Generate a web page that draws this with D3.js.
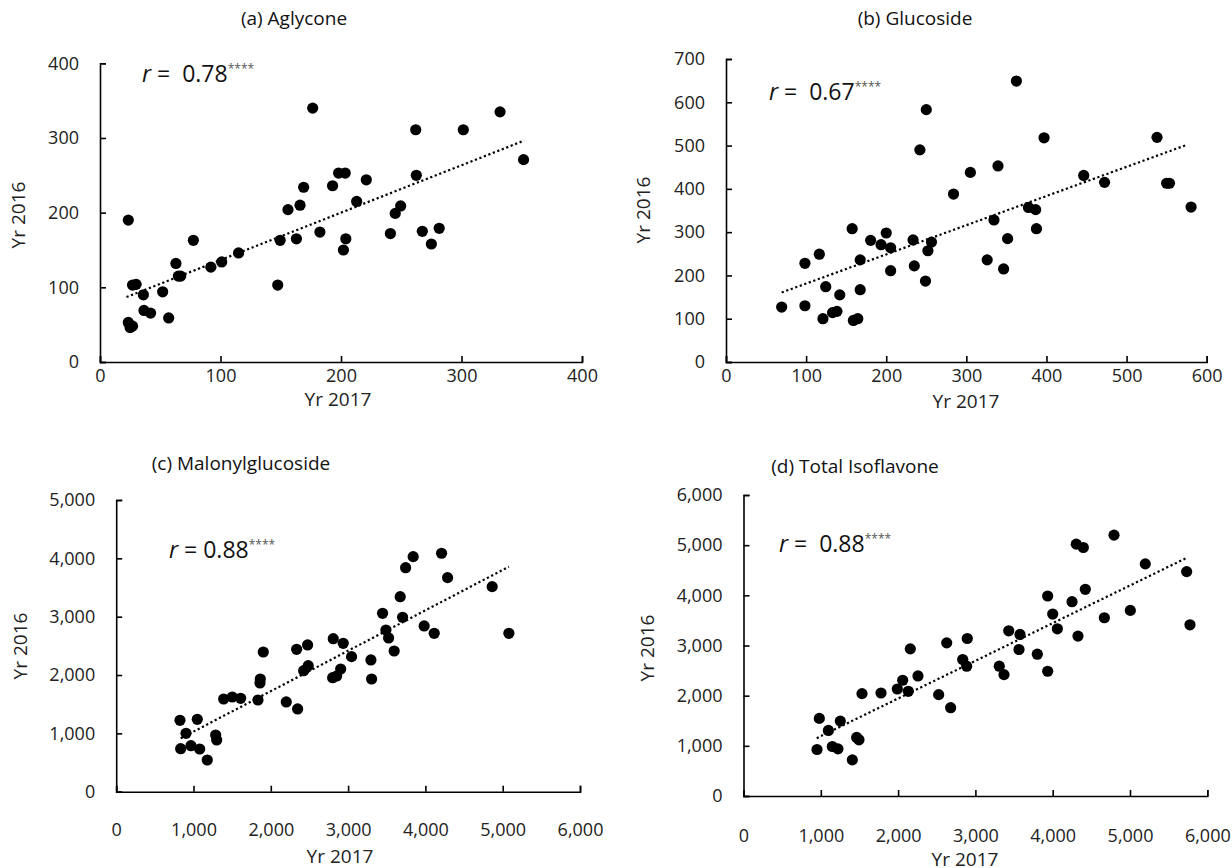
<!DOCTYPE html>
<html><head><meta charset="utf-8">
<script src="https://cdn.jsdelivr.net/npm/d3@7"></script>
<style>body{margin:0;background:#fff}svg{display:block}</style></head>
<body><svg id="chart" width="1232" height="868"></svg>
<script>
// ---- data (Yr 2017 on x, Yr 2016 on y) ----
const aX=[23.5,27,30,36,52,36.5,42,57,23.5,27,25,63,65,67,77.5,92,101,115,147.5,149.5,156,163,166,169,176.5,182.5,193,198,203.5,202,204,221,213,332,262,301.5,351.5,262.5,249.5,245,241,267.5,281.5,275];
const aY=[190,103,104,90,94,69,65.5,59,53,48,46,132,115,115,163,127,134,146,103,163,204,165,210,234,340,174,236,253,253,150,165,244,215,335,311,311,271,250,209,199,172,175,179,158];
const bX=[69.5,98.5,98.5,116.5,124.5,121,133,138.5,142,157.5,159,164.5,167.5,167.5,180.5,193.5,200,205.5,205.5,233.5,235,242,250,252,256.5,249,284,305,362.5,397,339.5,334.5,377.5,386.5,387.5,351.5,326,346.5,446.5,472.5,538,550,553.5,580.5];
const bY=[127,130,228,249,174,100,114,117,155,308,96,100,167,236,281,271,298,264,211,282,222,490,583,257,277,187,388,438,649,518,453,328,357,352,308,285,236,215,431,415,519,413,413,358];
const cX=[825,1049,903,834,967,1080,1178,1287,1300,1390,1502,1610,1834,1864,1860,1903,2200,2347,2334,2476,2425,2484,2808,2937,2800,2852,2904,3045,3295,3304,3446,3489,3524,3596,3674,3705,3744,3842,3984,4114,4209,4287,4864,5080];
const cY=[1224,1241,1001,737,789,732,543,972,886,1589,1623,1601,1572,1932,1864,2395,1538,1418,2441,2515,2074,2160,2623,2544,1954,1983,2103,2315,2258,1932,3058,2772,2635,2412,3343,2990,3840,4029,2841,2715,4087,3669,3515,2715];
const dX=[951,981,1098,1149,1222,1252,1408,1464,1494,1533,1779,1990,2059,2132,2158,2257,2525,2680,2629,2895,2836,2887,3309,3370,3431,3577,3564,3801,3935,3935,4000,4060,4250,4305,4396,4327,4422,4668,4793,5004,5198,5733,5776];
const dY=[927,1547,1307,987,940,1493,720,1167,1120,2040,2053,2133,2307,2087,2933,2393,2020,1760,3053,3140,2720,2587,2587,2420,3293,3220,2920,2827,3987,2487,3627,3333,3873,5020,4953,3187,4120,3553,5200,3700,4627,4473,3413];

// linear trend lines (start / end points)
const trendA=[[22,87],[352,296.5]];
const trendB=[[69.5,160.6],[575,501.5]];
const trendC=[[834,915],[5080,3857]];
const trendD=[[947,1153],[5741,4753]];

const titles=["(a) Aglycone","(b) Glucoside","(c) Malonylglucoside","(d) Total Isoflavone"];
const rValues=["0.78","0.67","0.88","0.88"];
const xTicksA=[0,100,200,300,400], yTicksA=[0,100,200,300,400];
const xTicksB=[0,100,200,300,400,500,600], yTicksB=[0,100,200,300,400,500,600,700];
const xTicksC=[0,1000,2000,3000,4000,5000,6000], yTicksC=[0,1000,2000,3000,4000,5000];
const xTicksD=[0,1000,2000,3000,4000,5000,6000], yTicksD=[0,1000,2000,3000,4000,5000,6000];
const xLabel="Yr 2017", yLabel="Yr 2016";

// ---- layout ----
const FONT="'Open Sans', 'Noto Sans', sans-serif";
const NB="\u00a0";
const panels=[
 {x:aX,y:aY,trend:trendA,xt:xTicksA,yt:yTicksA,xr:[100,582],yr:[362,63.3],xpad:7,
  title:[294,25],xl:[338,406],yl:[18,215],r:[142,82],rsep:NB+NB},
 {x:bX,y:bY,trend:trendB,xt:xTicksB,yt:yTicksB,xr:[726,1206.7],yr:[362,59],xpad:7,
  title:[915,25],xl:[966,408],yl:[643,210],r:[769,100],rsep:NB+NB},
 {x:cX,y:cY,trend:trendC,xt:xTicksC,yt:yTicksC,xr:[116.2,580],yr:[791.7,500],xpad:32,
  title:[241,470],xl:[340,863],yl:[20,646],r:[169,558],rsep:NB},
 {x:dX,y:dY,trend:trendD,xt:xTicksD,yt:yTicksD,xr:[743.5,1207.3],yr:[796,495],xpad:33,
  title:[855,473],xl:[965,866],yl:[647,648],r:[779,552],rsep:NB+NB}
];

const svg=d3.select("#chart");
const fmt=d3.format(",");

panels.forEach((p,i)=>{
  const xs=d3.scaleLinear().domain(d3.extent(p.xt)).range(p.xr);
  const ys=d3.scaleLinear().domain(d3.extent(p.yt)).range(p.yr);
  const g=svg.append("g");

  const xa=g.append("g").attr("transform",`translate(0,${p.yr[0]})`)
    .call(d3.axisBottom(xs).tickValues(p.xt).tickFormat(fmt).tickSize(-6).tickSizeOuter(-6).tickPadding(p.xpad));
  const ya=g.append("g").attr("transform",`translate(${p.xr[0]},0)`)
    .call(d3.axisLeft(ys).tickValues(p.yt).tickFormat(fmt).tickSize(-6).tickSizeOuter(-6).tickPadding(21));
  [xa,ya].forEach(a=>{
    a.selectAll("path,line").attr("stroke","#000").attr("stroke-width",1.6);
    a.selectAll("text").attr("fill","#222").style("font-family",FONT).style("font-size","18px");
  });

  // trend line
  g.append("path").datum(p.trend)
    .attr("d",d3.line().x(d=>xs(d[0])).y(d=>ys(d[1])))
    .attr("fill","none").attr("stroke","#000").attr("stroke-width",2.2)
    .attr("stroke-dasharray","2.2,2.6");

  // points
  g.selectAll("circle").data(d3.range(p.x.length)).join("circle")
    .attr("cx",k=>xs(p.x[k])).attr("cy",k=>ys(p.y[k])).attr("r",5.6).attr("fill","#000");

  // title
  g.append("text").attr("x",p.title[0]).attr("y",p.title[1]).attr("text-anchor","middle")
    .style("font-family",FONT).style("font-size","19px").attr("fill","#111").text(titles[i]);
  // axis titles
  g.append("text").attr("x",p.xl[0]).attr("y",p.xl[1]).attr("text-anchor","middle")
    .style("font-family",FONT).style("font-size","19px").attr("fill","#222").text(xLabel);
  g.append("text").attr("transform",`translate(${p.yl[0]},${p.yl[1]}) rotate(-90)`)
    .attr("text-anchor","middle").attr("dy","0.35em")
    .style("font-family",FONT).style("font-size","19px").attr("fill","#222").text(yLabel);

  // r annotation
  const t=g.append("text").attr("x",p.r[0]).attr("y",p.r[1])
    .style("font-family",FONT).style("font-size","23px").attr("fill","#111");
  t.append("tspan").style("font-style","italic").text("r");
  t.append("tspan").text(NB+"="+p.rsep+rValues[i]);
  t.append("tspan").attr("dy",-9).style("font-size","12px").attr("fill","#555").text("****");
});
</script></body></html>
